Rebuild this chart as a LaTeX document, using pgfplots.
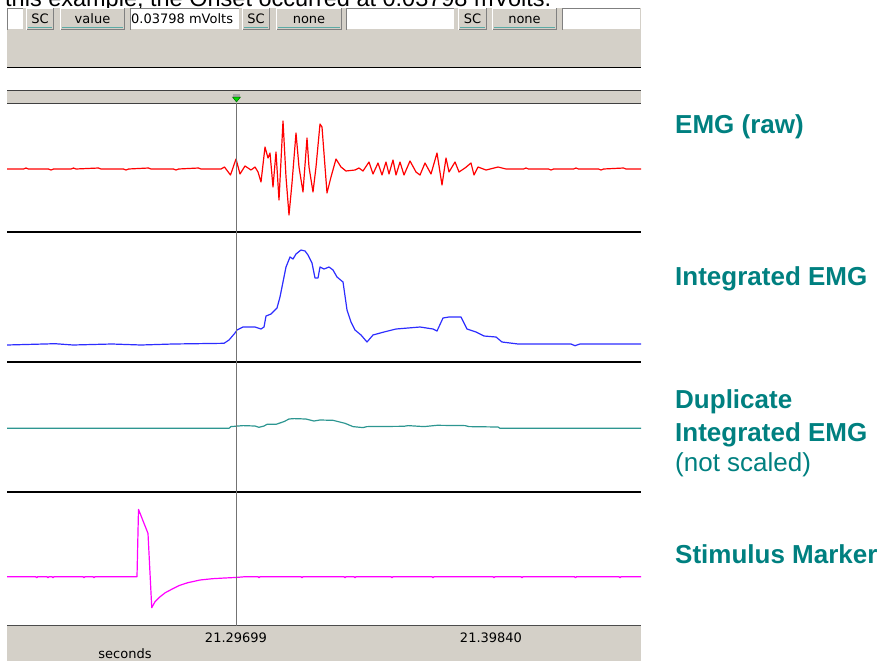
\documentclass[border=0pt]{standalone}
\usepackage{pgfplots}
\pgfplotsset{compat=1.18}
\usepackage{fontspec}
\setmainfont{Liberation Sans}
\newfontfamily\uifont{DejaVu Sans}
\definecolor{winface}{RGB}{212,208,200}
\definecolor{windark}{RGB}{128,128,128}
\definecolor{labteal}{RGB}{0,128,128}
\definecolor{tracered}{RGB}{255,0,0}
\definecolor{traceblue}{RGB}{45,45,255}
\definecolor{traceteal}{RGB}{45,150,145}
\definecolor{tracemag}{RGB}{255,0,255}
\definecolor{btnline}{RGB}{90,170,165}
\pgfplotsset{panel/.style={scale only axis, width=634pt, xmin=-91.6, xmax=162,
  axis line style={draw=none}, ytick=\empty, xtick=\empty, clip=true, anchor=north west,
  every axis plot/.append style={line width=1.2pt, line join=round, mark=none}}}
\newcommand\btn[3]{%
  \fill[winface] (#1,8) rectangle (#2,30);
  \draw[white, line width=1pt] (#1+0.5,30) -- (#1+0.5,8.5) -- (#2,8.5);
  \draw[windark, line width=1pt] (#1+0.5,29.5) -- (#2-0.5,29.5) -- (#2-0.5,8.5);
  \draw[btnline, line width=1.4pt] (#1+2,27.6) -- (#2-2,27.6);
  \node[font=\uifont\fontsize{13}{13}\selectfont, inner sep=0pt, anchor=base] at ({(#1+#2)/2},24) {#3};}
\newcommand\wbox[2]{%
  \fill[white] (#1,8) rectangle (#2,30);
  \draw[windark, line width=1pt] (#1+0.5,30) -- (#1+0.5,8.5) -- (#2,8.5);
  \draw[winface, line width=1pt] (#1+0.5,29.5) -- (#2-0.5,29.5) -- (#2-0.5,8.5);}
\begin{document}
\begin{tikzpicture}
\useasboundingbox (0pt,0pt) rectangle (883pt,-661pt);
\begin{scope}[x=1pt,y=-1pt]
\clip (0,0) rectangle (883,661);
\node[anchor=base west, inner sep=0pt, font=\fontsize{23.5}{23.5}\selectfont] at (5,7) {this example, the Onset occurred at 0.03798 mVolts.};
% toolbar
\fill[winface] (7,8) rectangle (641,67);
\wbox{7}{24}
\btn{26}{54}{SC}
\btn{60}{125}{value}
\wbox{130}{240}
\node[anchor=base west, inner sep=0pt, font=\uifont\fontsize{13}{13}\selectfont] at (131,24) {0.03798 mVolts};
\btn{242}{270}{SC}
\btn{276}{342}{none}
\wbox{346}{455}
\btn{458}{487}{SC}
\btn{492}{557}{none}
\wbox{562}{641}
\draw[black, line width=1.4pt] (7,67.3) -- (641,67.3);
% gray bar
\fill[winface] (7,90.5) rectangle (641,103.5);
\draw[black!75, line width=1.2pt] (7,90.7) -- (641,90.7);
\draw[black!75, line width=1.4pt] (7,103.3) -- (641,103.3);
% bottom strip
\fill[winface] (7,626) rectangle (641,661);
\node[anchor=center, inner sep=0pt, font=\uifont\fontsize{13}{13}\selectfont] at (125,654) {seconds};
\end{scope}

% Panel 1: EMG raw
\begin{axis}[panel, at={(7pt,-104pt)}, height=128pt, ymin=-63, ymax=65]
\addplot[tracered] coordinates {
(-91.6,0) (-85,0) (-84,1) (-83,0) (-75,0) (-74,-1) (-73,0) (-66,0) (-65,1) (-64,0)
(-55,1) (-54,0) (-45,0) (-44,-1) (-43,0) (-35,1) (-34,0) (-25,0) (-24,-1) (-23,0)
(-15,1) (-14,0) (-6,0) (-4.6,2) (-2.2,-6) (0,10) (1.6,-5) (3.6,3) (6.0,-1) (7.6,2)
(8.8,-3) (10.0,-13) (11.6,22) (12.8,11) (13.6,16) (14.8,-18) (16.0,17) (17.2,-31)
(18.8,48) (20.0,-8) (21.2,-46) (22.4,-14) (24.0,36) (25.2,2) (26.8,-23) (28.4,31)
(29.2,2) (30.8,-23) (32.0,2) (33.6,45) (34.4,42) (36.4,-24) (38.0,-8) (40.0,10)
(42.0,2) (44.0,-2) (47.6,-1) (49.2,1) (50.8,-2) (53.2,7) (54.8,-5) (56.8,6) (58.4,-6)
(60.0,7) (61.2,-5) (62.8,9) (64.0,-6) (65.6,7) (67.2,-6) (69.6,8) (72.0,-3) (73.6,-6)
(75.6,6) (78.0,-5) (80.4,16) (82.4,-16) (84.0,11) (85.2,-3) (87.6,7) (89.2,-3)
(91.6,1) (94.0,6) (95.2,-6) (96.8,2) (100.0,-1) (104.8,2) (108.0,0) (115,0) (116,1)
(117,0) (125,0) (126,-1) (127,0) (135,0) (136,1) (137,0) (145,0) (146,-1) (147,0)
(155,1) (156,0) (162,0)};
\end{axis}

% Panel 2: Integrated EMG
\begin{axis}[panel, at={(7pt,-232pt)}, height=130pt, ymin=-17, ymax=113]
\addplot[traceblue] coordinates {
(-91.6,0) (-72.4,1.3) (-65.2,0) (-54.4,0.7) (-49.6,1) (-38.0,0) (-25.2,1) (-4.8,1.7)
(-2.8,5) (-0.4,12) (0.4,15) (2.8,18) (7.6,18) (10.0,16) (11.2,18) (12.0,29) (14.0,31)
(16.4,37) (17.6,48) (19.2,68) (20.0,78) (21.6,88) (22.8,86) (24.0,91) (26.0,95)
(27.6,94) (28.8,90) (30.4,82) (31.6,67) (32.8,67) (33.6,78) (35.2,76) (37.2,78)
(38.8,75) (40.4,68) (42.8,63) (44.4,35) (46.0,23) (47.6,15) (50.0,10) (52.4,3)
(54.8,10) (59.2,13) (64.0,16) (68.8,17) (73.6,18) (78.8,16) (80.4,14) (82.8,27)
(85.2,28) (90.0,28) (92.4,16) (96.0,13) (99.2,9) (104.0,8) (106.4,3) (112.8,1)
(134.0,1) (135.6,-0.7) (137.6,1) (162,1)};
\end{axis}

% Panel 3: Duplicate integrated EMG
\begin{axis}[panel, at={(7pt,-362pt)}, height=130pt, ymin=-63.7, ymax=66.3]
\addplot[traceteal] coordinates {
(-91.6,0) (-2.8,0) (-2.0,1.7) (2.8,2.7) (7.6,2.3) (9.2,1) (11.2,2.3) (12.4,4)
(16.0,4) (19.2,6.7) (21.2,9.3) (23.2,9.7) (28.0,9.3) (31.2,7.3) (33.6,8.3) (38.8,8)
(43.6,5) (46.8,1.7) (50.8,0.7) (52.4,1.7) (67.2,2) (68.8,2.7) (75.2,1.7) (80.4,3)
(91.6,2.7) (93.2,1.7) (104.8,1.3) (105.6,0) (162,0)};
\end{axis}

% Panel 4: Stimulus marker
\begin{axis}[panel, at={(7pt,-492pt)}, height=134pt, ymin=-49.3, ymax=84.7,
  xtick={0,102}, xticklabels={21.29699,21.39840}, major tick length=0pt,
  xticklabel style={font=\uifont\fontsize{13}{13}\selectfont, anchor=center, yshift=-12pt}]
\addplot[tracemag] coordinates {
(-91.6,0) (-80.1,0) (-79.7,-1) (-79.3,0) (-75.6,0) (-75.2,-1) (-74.8,0) (-73.6,0)
(-73.2,-1) (-72.8,0) (-61.2,0) (-60.8,-1) (-60.4,0) (-57.2,0) (-56.8,-1) (-56.4,0)
(-39.6,0) (-39.0,67.3) (-35.2,43.3) (-33.7,-31) (-32.4,-25) (-30.7,-20.7) (-28.3,-16)
(-25.8,-12.7) (-22.6,-8.7) (-19.3,-6) (-14.4,-3.3) (-9.5,-2) (-4.6,-1.3) (0.3,-0.7)
(3.6,0) (8.8,0) (9.2,-1) (9.6,0) (26.0,0) (26.4,-1) (26.8,0) (43.2,0) (43.6,-1)
(44.0,0) (47.2,0) (47.6,-1) (48.0,0) (62.0,0) (62.4,-1) (62.8,0) (78.4,0) (78.8,-1)
(79.2,0) (102.8,0) (103.2,-1) (103.6,0) (114.0,0) (114.4,-1) (114.8,0) (135.4,0)
(135.8,-1) (136.2,0) (153.2,0) (153.6,-1) (154.0,0) (162,0)};
\end{axis}

\begin{scope}[x=1pt,y=-1pt]
% dividers
\draw[black, line width=2.2pt] (7,232.3) -- (641,232.3);
\draw[black, line width=2.2pt] (7,362) -- (641,362);
\draw[black, line width=2.2pt] (7,492) -- (641,492);
\draw[black!70, line width=1.5pt] (7,625.5) -- (641,625.5);
% cursor
\draw[black!55, line width=1.3pt] (236.5,103) -- (236.5,626);
\fill[black!35] (233,94) rectangle (240,97.5);
\filldraw[fill=green!85!black, draw=green!40!black, line width=0.5pt] (232.5,97) -- (240.5,97) -- (236.5,102) -- cycle;
% labels
\begin{scope}[every node/.style={anchor=base west, inner sep=0pt, text=labteal, font=\bfseries\fontsize{26}{26}\selectfont}]
\node at (675,133) {EMG (raw)};
\node at (675,285) {Integrated EMG};
\node at (675,408) {Duplicate};
\node at (675,441) {Integrated EMG};
\node[font=\fontsize{26}{26}\selectfont] at (675,471) {(not scaled)};
\node at (675,563) {Stimulus Marker};
\end{scope}
\end{scope}
\end{tikzpicture}
\end{document}
